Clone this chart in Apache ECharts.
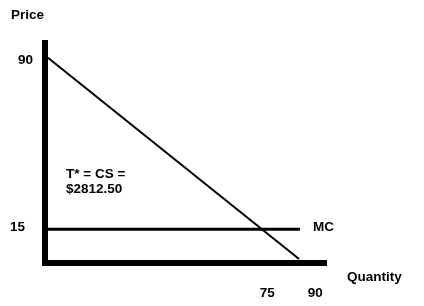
<!DOCTYPE html>
<html><head><meta charset="utf-8">
<script src="https://cdn.jsdelivr.net/npm/echarts@6/dist/echarts.min.js"></script>
<style>html,body{margin:0;padding:0;background:#fff}#c{width:424px;height:306px}</style>
</head><body><div id="c"></div>
<script>
// Data
const xTickLabels = [75, 90];
const yTickLabels = [15, 90];
const demandQ = [1, 86.5];
const demandP = [91, 1.8];
const mcQ = [0, 86.8];
const mcP = [15, 15];
const xName = 'Quantity';
const yName = 'Price';
const mcLabel = 'MC';
const noteLines = ['T* = CS =', '$2812.50'];

const FONT = 'bold 13.5px "Liberation Sans", Arial, sans-serif';
const chart = echarts.init(document.getElementById('c'), null, {renderer: 'canvas'});
const pairs = (xs, ys) => xs.map((x, i) => [x, ys[i]]);
const txt = {fontFamily: '"Liberation Sans", Arial, sans-serif', fontWeight: 'bold', fontSize: 13.5, color: '#000'};

chart.setOption({
  animation: false,
  grid: {left: 45, right: 100, top: 43, bottom: 43, containLabel: false},
  xAxis: {
    type: 'value', min: 0, max: 95,
    axisLine: {show: true, lineStyle: {color: '#000', width: 6, cap: 'square'}},
    axisTick: {show: false}, splitLine: {show: false},
    axisLabel: {
      customValues: xTickLabels, margin: 23, ...txt,
      formatter: v => v === 90 ? '{r|' + v + '}' : '{l|' + v + '}',
      rich: {r: {...txt, padding: [0, 0, 0, 12]}, l: {...txt, padding: [0, 0, 0, 4]}}
    }
  },
  yAxis: {
    type: 'value', min: 0, max: 97.5,
    axisLine: {show: true, lineStyle: {color: '#000', width: 6, cap: 'square'}},
    axisTick: {show: false}, splitLine: {show: false},
    axisLabel: {
      customValues: yTickLabels, margin: 12, ...txt,
      formatter: v => v === 15 ? '{a|' + v + '}' : '{b|' + v + '}',
      rich: {a: {...txt, padding: [0, 8, 4, 0]}, b: {...txt}}
    }
  },
  series: [
    {type: 'line', data: pairs(demandQ, demandP), symbol: 'none', lineStyle: {color: '#000', width: 2}},
    {type: 'line', data: pairs(mcQ, mcP), symbol: 'none', lineStyle: {color: '#000', width: 3}}
  ],
  graphic: [
    {type: 'text', x: 11, y: 15, style: {text: yName, font: FONT, fill: '#000', verticalAlign: 'middle'}},
    {type: 'text', x: 347, y: 277, style: {text: xName, font: FONT, fill: '#000', verticalAlign: 'middle'}},
    {type: 'text', x: 313, y: 227, style: {text: mcLabel, font: FONT, fill: '#000', verticalAlign: 'middle'}},
    {type: 'text', x: 66, y: 174, style: {text: noteLines[0], font: FONT, fill: '#000', verticalAlign: 'middle'}},
    {type: 'text', x: 66, y: 189, style: {text: noteLines[1], font: FONT, fill: '#000', verticalAlign: 'middle'}}
  ]
});
</script></body></html>
